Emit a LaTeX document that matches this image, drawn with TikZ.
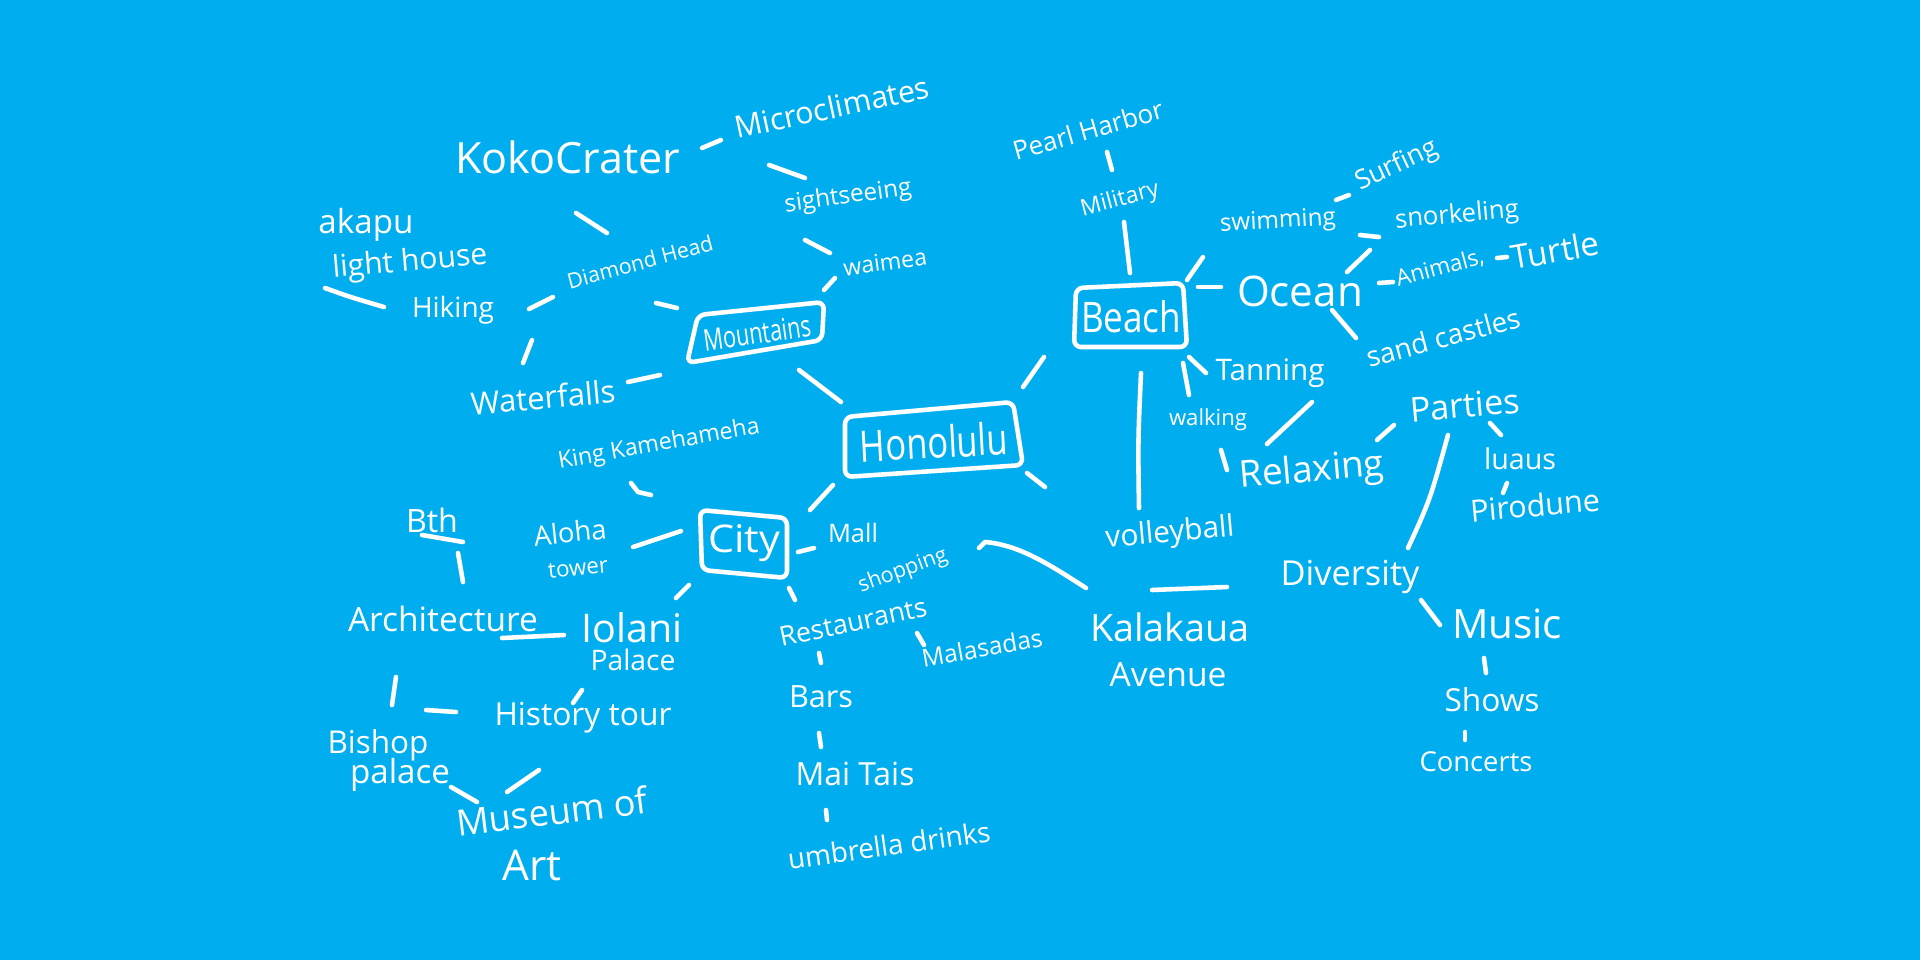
\documentclass[tikz,border=0pt]{standalone}
\usepackage{fontspec}
\setmainfont{Open Sans}
\usepackage{graphicx}
\definecolor{bg}{RGB}{0,174,239}
\newdimen\pxu \pxu=0.01cm
\newcommand\fw[2]{\resizebox{#1\pxu}{!}{#2}}
\newcommand\fwh[3]{\resizebox{#1\pxu}{#2\pxu}{#3}}
\tikzset{
  lbl/.style={text=white, inner sep=0pt, font=\normalsize},
  ln/.style={draw=white, line width=1.3pt, line cap=round, line join=round},
  bx/.style={ln, rounded corners=2pt},
}
\newcommand\cn[2]{\draw[ln] (#1) -- (#2);}
\begin{document}
\begin{tikzpicture}[x=0.01cm, y=-0.01cm]
\fill[bg] (0,0) rectangle (1920,960);
\useasboundingbox (0,0) rectangle (1920,960);

% ---------- Mountains branch ----------
\node[lbl, rotate=12] (micro) at (832,107) {\fw{198}{Microclimates}};
\node[lbl] (koko) at (568,157) {\fw{225}{KokoCrater}};
\node[lbl, rotate=8] (sight) at (848,197) {\fw{128}{sightseeing}};
\node[lbl, rotate=8] (waimea) at (885,262) {\fw{84}{waimea}};
\node[lbl] (akapu) at (366,225) {\fw{95}{akapu}};
\node[lbl, rotate=5] (light) at (410,263) {\fw{155}{light house}};
\node[lbl] (hiking) at (453,310) {\fw{82}{Hiking}};
\node[lbl, rotate=15] (diamond) at (640,262) {\fw{150}{Diamond Head}};
\node[lbl, rotate=8] (mount) at (757,333) {\fwh{108}{22}{Mountains}};
\draw[bx] (698,315) -- (824,302) -- (822,340) -- (687,363) -- cycle;
\node[lbl, rotate=5] (water) at (543,397) {\fw{145}{Waterfalls}};
\node[lbl, rotate=10] (king) at (659,445) {\fw{204}{King Kamehameha}};

% ---------- Honolulu ----------
\node[lbl, rotate=3] (hono) at (934,442) {\fwh{148}{33}{Honolulu}};
\draw[bx] (845,417) -- (1013,402) -- (1023,465) -- (845,477) -- cycle;

% ---------- Beach branch ----------
\node[lbl, rotate=16] (pearl) at (1088,130) {\fw{155}{Pearl Harbor}};
\node[lbl, rotate=15] (military) at (1120,200) {\fw{80}{Military}};
\node[lbl] (beach) at (1131,317) {\fwh{100}{32}{Beach}};
\draw[bx] (1076,288) -- (1183,283) -- (1187,347) -- (1074,347) -- cycle;
\node[lbl, rotate=3] (swim) at (1278,222) {\fw{116}{swimming}};
\node[lbl, rotate=25] (surf) at (1397,166) {\fw{88}{Surfing}};
\node[lbl, rotate=5] (snork) at (1457,216) {\fw{124}{snorkeling}};
\node[lbl] (ocean) at (1300,291) {\fw{126}{Ocean}};
\node[lbl, rotate=15] (animals) at (1440,268) {\fw{90}{Animals,}};
\node[lbl, rotate=10] (turtle) at (1555,250) {\fw{89}{Turtle}};
\node[lbl, rotate=15] (sand) at (1443,337) {\fw{158}{sand castles}};
\node[lbl] (tanning) at (1270,373) {\fw{109}{Tanning}};
\node[lbl] (walking) at (1208,420) {\fw{78}{walking}};
\node[lbl, rotate=5] (relax) at (1312,472) {\fw{145}{Relaxing}};
\node[lbl, rotate=5] (parties) at (1465,405) {\fw{110}{Parties}};
\node[lbl] (luaus) at (1520,459) {\fw{72}{luaus}};
\node[lbl, rotate=5] (pino) at (1535,505) {\fw{130}{Pirodune}};
\node[lbl, rotate=5] (volley) at (1170,534) {\fw{129}{volleyball}};
\node[lbl] (kala) at (1170,627) {\fw{160}{Kalakaua}};
\node[lbl] (avenue) at (1168,675) {\fw{117}{Avenue}};
\node[lbl] (divers) at (1350,577) {\fw{139}{Diversity}};
\node[lbl] (music) at (1507,624) {\fw{110}{Music}};
\node[lbl] (shows) at (1492,700) {\fw{95}{Shows}};
\node[lbl] (concerts) at (1476,762) {\fw{113}{Concerts}};

% ---------- City branch ----------
\node[lbl] (city) at (744,543) {\fwh{72}{28}{City}};
\draw[bx] (700,510) -- (787,518) -- (787,578) -- (702,570) -- cycle;
\node[lbl] (mall) at (853,533) {\fw{50}{Mall}};
\node[lbl, rotate=20] (shop) at (903,571) {\fw{93}{shopping}};
\node[lbl, rotate=12] (rest) at (853,622) {\fw{150}{Restaurants}};
\node[lbl, rotate=10] (mala) at (982,648) {\fw{122}{Malasadas}};
\node[lbl] (bars) at (821,697) {\fw{64}{Bars}};
\node[lbl] (mai) at (855,774) {\fw{119}{Mai Tais}};
\node[lbl, rotate=8] (umb) at (889,845) {\fw{204}{umbrella drinks}};
\node[lbl, rotate=6] (aloha) at (570,532) {\fw{73}{Aloha}};
\node[lbl, rotate=6] (tower) at (578,568) {\fw{60}{tower}};
\node[lbl] (bth) at (432,520) {\fw{52}{Bth}};
\node[lbl] (arch) at (443,619) {\fw{190}{Architecture}};
\node[lbl] (iolani) at (632,628) {\fw{101}{Iolani}};
\node[lbl] (palace) at (633,660) {\fw{85}{Palace}};
\node[lbl] (hist) at (583,718) {\fw{177}{History tour}};
\node[lbl] (bishop) at (378,745) {\fw{101}{Bishop}};
\node[lbl] (bpal) at (400,775) {\fw{100}{palace}};
\node[lbl, rotate=7] (museum) at (552,811) {\fw{192}{Museum of}};
\node[lbl] (art) at (532,866) {\fw{59}{Art}};

% ---------- strokes ----------
\cn{702,148}{721,140}
\cn{769,165}{805,178}
\cn{805,240}{830,253}
\cn{824,290}{835,278}
\cn{576,213}{607,233}
\cn{656,303}{677,308}
\cn{529,309}{553,297}
\draw[ln] (325,288) .. controls (350,297) .. (384,307);
\cn{532,340}{523,363}
\cn{628,382}{660,375}
\cn{799,370}{841,402}
\cn{1044,357}{1023,387}
\cn{1027,473}{1045,487}
\cn{810,510}{833,485}
\draw[ln] (631,483) -- (638,492) -- (651,495);
\cn{633,547}{681,531}
\cn{458,553}{463,582}
\cn{422,535}{463,542}
\cn{798,552}{814,548}
\cn{789,588}{795,600}
\cn{917,633}{924,645}
\cn{819,653}{821,663}
\cn{819,733}{821,747}
\cn{826,810}{827,820}
\cn{676,598}{689,585}
\cn{502,638}{564,635}
\cn{573,703}{582,690}
\cn{396,677}{392,705}
\cn{426,710}{456,712}
\cn{451,787}{477,802}
\cn{507,792}{539,770}
\cn{1107,152}{1112,170}
\cn{1124,222}{1130,273}
\cn{1187,280}{1203,257}
\cn{1336,200}{1349,195}
\cn{1360,235}{1379,237}
\cn{1347,272}{1370,250}
\cn{1198,287}{1221,287}
\cn{1379,283}{1393,282}
\cn{1497,258}{1507,257}
\cn{1332,310}{1356,338}
\cn{1189,357}{1206,373}
\cn{1183,363}{1189,395}
\draw[ln] (1141,373) .. controls (1138,440) .. (1139,508);
\cn{1312,402}{1267,444}
\cn{1221,450}{1227,470}
\cn{1377,440}{1394,425}
\draw[ln] (1448,435) .. controls (1430,500) .. (1408,548);
\cn{1490,423}{1501,435}
\cn{1507,483}{1503,493}
\draw[ln] (979,548) -- (985,542) .. controls (1020,545) and (1050,565) .. (1086,588);
\cn{1152,590}{1227,587}
\cn{1421,600}{1440,625}
\cn{1484,658}{1486,673}
\cn{1465,732}{1465,740}
\end{tikzpicture}
\end{document}
